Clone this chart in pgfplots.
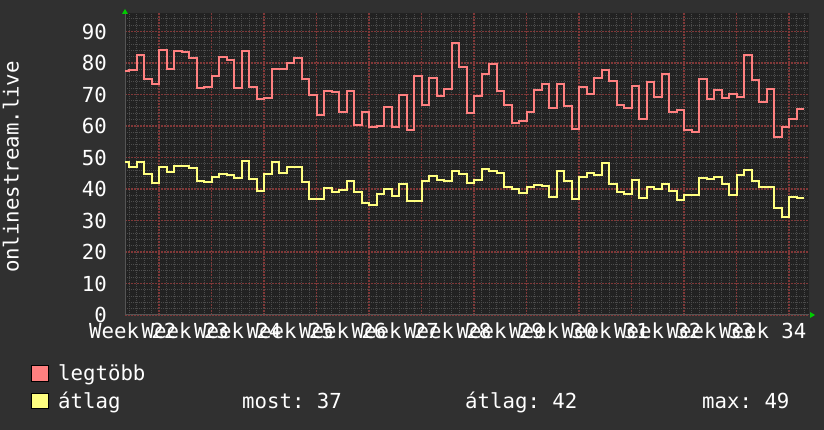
\documentclass[border=0pt]{standalone}
\usepackage{fontspec}
\setmainfont{DejaVu Sans Mono}
\usepackage{pgfplots}
\usepackage{pgfplotstable}
\pgfplotsset{compat=1.18}
\frenchspacing

\definecolor{canvas}{HTML}{303030}
\definecolor{plotback}{HTML}{222222}
\definecolor{maxline}{HTML}{FF8080}
\definecolor{avgline}{HTML}{FFFF80}
\definecolor{majorgrid}{HTML}{803838}
\definecolor{minorgrid}{HTML}{4C4C4C}
\definecolor{axisgray}{HTML}{555555}
\definecolor{arrowgreen}{HTML}{00CC00}
\newcommand\rrdfont{\fontsize{20.7}{24}\selectfont}

% daily values: day, legtöbb (max), átlag (average)
\pgfplotstableread{
day     max   avg
-0.5333 77.6  48.7
0       77.9  47.1
1       82.6  48.7
2       75.0  44.9
3       73.5  41.9
4       84.2  46.9
5       78.2  45.4
6       83.9  47.2
7       83.4  47.4
8       81.7  46.8
9       72.1  42.6
10      72.5  42.2
11      76.0  43.7
12      82.0  44.8
13      81.1  44.4
14      72.1  43.6
15      83.9  49.0
16      72.5  43.1
17      68.6  39.5
18      69.0  44.7
19      78.2  48.7
20      78.2  45.2
21      80.1  46.9
22      81.7  46.9
23      74.9  42.2
24      69.8  36.8
25      63.5  36.8
26      71.2  40.2
27      70.8  39.2
28      64.6  39.8
29      71.2  42.7
30      60.2  38.9
31      64.6  35.7
32      59.8  35.0
33      60.0  38.5
34      66.1  40.1
35      59.8  37.9
36      69.9  41.7
37      58.8  36.3
38      75.9  36.3
39      66.8  42.4
40      75.4  44.0
41      69.4  42.9
42      71.9  42.4
43      86.5  45.6
44      78.8  44.7
45      64.2  41.8
46      69.5  42.9
47      76.4  46.4
48      79.7  45.7
49      71.2  45.1
50      66.8  40.8
51      61.1  40.0
52      61.7  38.8
53      64.6  40.5
54      71.4  41.4
55      73.2  41.0
56      65.7  37.6
57      73.4  45.8
58      66.3  42.6
59      59.0  36.8
60      72.5  43.9
61      70.2  45.1
62      75.4  44.6
63      77.9  48.3
64      74.4  41.7
65      66.7  39.2
66      65.6  38.3
67      72.8  42.9
68      62.2  37.0
69      74.1  40.6
70      69.3  40.1
71      76.4  41.6
72      64.6  39.5
73      65.1  36.6
74      58.8  38.2
75      58.2  38.0
76      75.0  43.6
77      68.7  43.2
78      71.5  43.9
79      69.0  41.5
80      70.2  38.0
81      69.3  44.6
82      82.6  46.1
83      74.6  42.7
84      67.6  40.8
85      71.7  40.8
86      56.6  34.1
87      59.8  31.2
88      62.2  37.6
89      65.5  37.2
90      65.5  37.2
}\stats

\begin{document}
\begin{tikzpicture}
\path[use as bounding box, fill=canvas] (0pt,0pt) rectangle (824pt,430pt);

\begin{axis}[
    at={(125pt,115pt)}, anchor=south west,
    scale only axis,
    width=684pt, height=302pt,
    xmin=-0.5333, xmax=90.6667,
    ymin=0, ymax=95.9,
    axis x line*=bottom,
    axis y line*=left,
    axis line style={draw=axisgray, line width=1pt, -},
    axis background/.style={fill=plotback},
    xtick={4,11,...,88},
    xticklabels={},
    minor xtick={0,1,2,3,5,6,7,8,9,10,12,13,14,15,16,17,19,20,21,22,23,24,
        26,27,28,29,30,31,33,34,35,36,37,38,40,41,42,43,44,45,47,48,49,50,51,52,
        54,55,56,57,58,59,61,62,63,64,65,66,68,69,70,71,72,73,75,76,77,78,79,80,
        82,83,84,85,86,87,89,90},
    extra x ticks={0.5,7.5,...,84.5},
    extra x tick labels={Week 22,Week 23,Week 24,Week 25,Week 26,Week 27,Week 28,
        Week 29,Week 30,Week 31,Week 32,Week 33,Week 34},
    extra x tick style={grid=none},
    ytick={0,10,...,90},
    minor ytick={2,4,6,8,12,14,16,18,22,24,26,28,32,34,36,38,42,44,46,48,
        52,54,56,58,62,64,66,68,72,74,76,78,82,84,86,88,92,94},
    major tick length=0pt, minor tick length=0pt,
    grid=both,
    major grid style={draw=majorgrid, line width=1.4pt, dash pattern=on 1.5pt off 1.5pt},
    minor grid style={draw=minorgrid, line width=1pt, dash pattern=on 1pt off 1pt},
    tick label style={font=\rrdfont, text=white, inner sep=0pt},
    yticklabel style={anchor=east, xshift=-18pt,
        /pgf/number format/assume math mode=true},
    xticklabel style={anchor=north, yshift=-8pt},
    clip=false,
]
\addplot[const plot mark left, draw=maxline, line width=2pt] table[x=day, y=max] {\stats};
\addplot[const plot mark left, draw=avgline, line width=2pt] table[x=day, y=avg] {\stats};
\end{axis}

% arrow heads of the axes
\fill[arrowgreen] (122pt,416pt) -- (128pt,416pt) -- (125pt,421pt) -- cycle;
\fill[arrowgreen] (810pt,118pt) -- (810pt,112pt) -- (815pt,115pt) -- cycle;

% vertical label
\node[font=\rrdfont, text=white, rotate=90, anchor=base, inner sep=0pt]
    at (18.5pt,263pt) {onlinestream.live};

% legend
\filldraw[fill=maxline, draw=black, line width=1pt] (31pt,48pt) rectangle (48pt,64pt);
\filldraw[fill=avgline, draw=black, line width=1pt] (31pt,21pt) rectangle (48pt,36pt);
\begin{scope}[every node/.style={font=\rrdfont, text=white, anchor=base west, inner sep=0pt}]
\node at (58pt,49pt) {legtöbb};
\node at (58pt,21pt) {átlag};
\node at (242pt,21pt) {most: 37};
\node at (465pt,21pt) {átlag: 42};
\node at (702pt,21pt) {max: 49};
\end{scope}
\end{tikzpicture}
\end{document}
